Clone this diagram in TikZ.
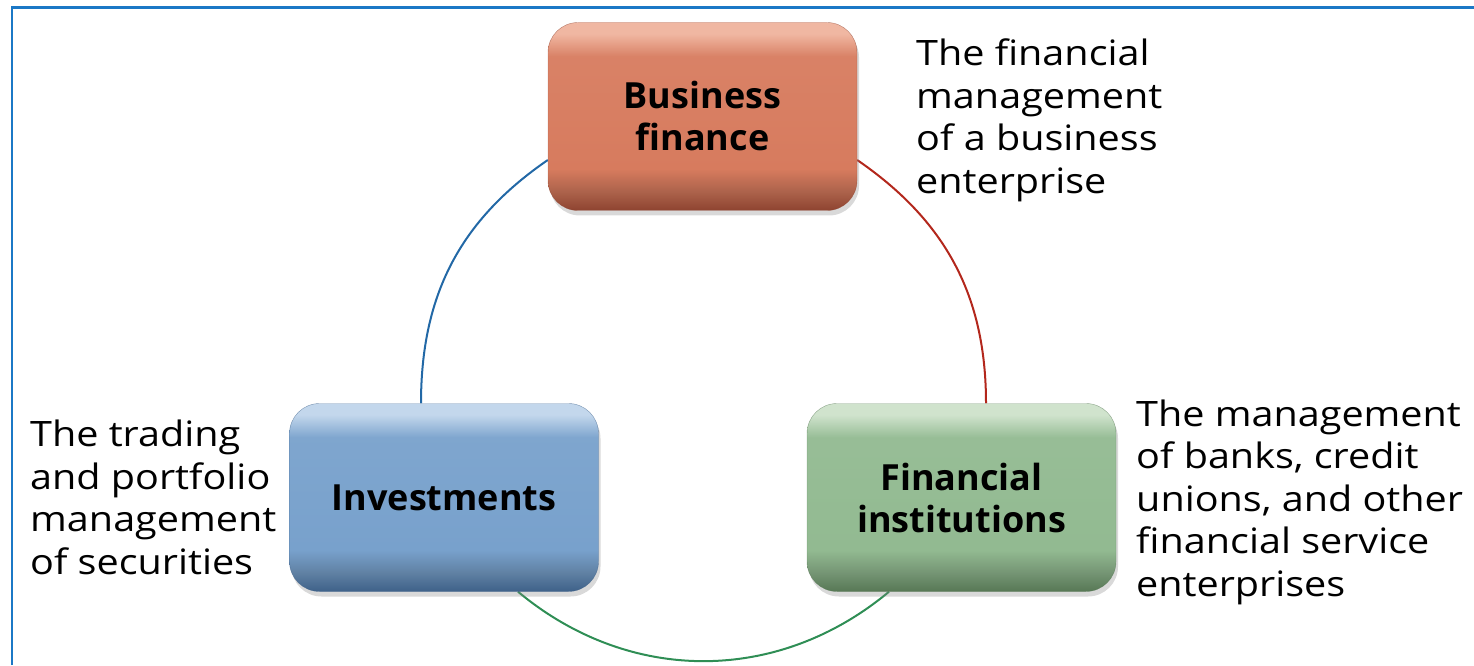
\documentclass[tikz,border=0pt]{standalone}
\usepackage{fontspec}
\setmainfont{Open Sans}
\newfontfamily\descfont[FakeStretch=1.13]{Open Sans}
\usetikzlibrary{calc,backgrounds,shadows}
\definecolor{frameblue}{HTML}{1B78C6}
\definecolor{arcblue}{HTML}{2268A6}
\definecolor{arcred}{HTML}{B3271C}
\definecolor{arcgreen}{HTML}{2F8E55}
\definecolor{bftop}{HTML}{F0B7A2}
\definecolor{bfmid}{HTML}{D77B5E}
\definecolor{bfbot}{HTML}{8E4330}
\definecolor{ivtop}{HTML}{C3D7EC}
\definecolor{ivmid}{HTML}{78A1CC}
\definecolor{ivbot}{HTML}{3E6189}
\definecolor{fitop}{HTML}{D0E3CD}
\definecolor{fimid}{HTML}{92BA91}
\definecolor{fibot}{HTML}{577855}
\pgfdeclareverticalshading{bfshade}{100bp}{color(0bp)=(bfbot); color(25bp)=(bfbot); color(30bp)=(bfmid!80!black); color(36bp)=(bfmid); color(66bp)=(bfmid!95!white); color(72bp)=(bftop); color(75bp)=(bftop); color(100bp)=(bftop)}
\pgfdeclareverticalshading{ivshade}{100bp}{color(0bp)=(ivbot); color(25bp)=(ivbot); color(30bp)=(ivmid!80!black); color(36bp)=(ivmid); color(66bp)=(ivmid!95!white); color(72bp)=(ivtop); color(75bp)=(ivtop); color(100bp)=(ivtop)}
\pgfdeclareverticalshading{fishade}{100bp}{color(0bp)=(fibot); color(25bp)=(fibot); color(30bp)=(fimid!80!black); color(36bp)=(fimid); color(66bp)=(fimid!95!white); color(72bp)=(fitop); color(75bp)=(fitop); color(100bp)=(fitop)}
\tikzset{
  areabox/.style={rounded corners=30pt, minimum width=309pt, minimum height=188pt,
    align=center, font=\bfseries\fontsize{36}{42}\selectfont, text=black,
    drop shadow={opacity=0.3, shadow xshift=2pt, shadow yshift=-5pt}},
  desc/.style={anchor=base west, align=left, inner sep=0pt,
    font=\descfont\fontsize{35}{42.5}\selectfont, text=black},
  link/.style={line width=2pt}
}
\begin{document}
\begin{tikzpicture}[x=1pt,y=1pt]
\useasboundingbox (0,0) rectangle (1474,665);
\draw[frameblue, line width=2.5pt] (12,0) coordinate (fa) -- (12,657.5) coordinate (fb) -- (1474,657.5) coordinate (fc);

\node[areabox, shading=bfshade, draw=bfbot, draw opacity=0.6] (bf) at (702.5,548.5) {Business\\finance};
\node[areabox, shading=ivshade, draw=ivbot, draw opacity=0.6] (inv) at (444,167.5) {Investments};
\node[areabox, shading=fishade, draw=fibot, draw opacity=0.6] (fi) at (961.5,167.5) {Financial\\institutions};

\coordinate (b1) at ($(bf.west)+(0,-43.5)$);
\coordinate (b2) at ($(inv.north)+(-23,0)$);
\coordinate (r1) at ($(bf.east)+(0,-43.5)$);
\coordinate (r2) at ($(fi.north)+(24.5,0)$);
\coordinate (g1) at ($(inv.south)+(74,0)$);
\coordinate (g2) at ($(fi.south)+(-72.5,0)$);
\begin{scope}[on background layer]
\draw[link, arcblue] (b1) to[out=214.5, in=90] (b2);
\draw[link, arcred] (r1) to[out=-34.5, in=90] (r2);
\draw[link, arcgreen] (g1) to[out=-39.8, in=219.8] (g2);
\end{scope}

\node[desc] (dbf) at (916,471.5) {The financial\\management\\of a business\\enterprise};
\node[desc] (dinv) at (30,91) {The trading\\and portfolio\\management\\of securities};
\node[desc] (dfi) at (1136,69) {The management\\of banks, credit\\unions, and other\\financial service\\enterprises};
\end{tikzpicture}
\end{document}
